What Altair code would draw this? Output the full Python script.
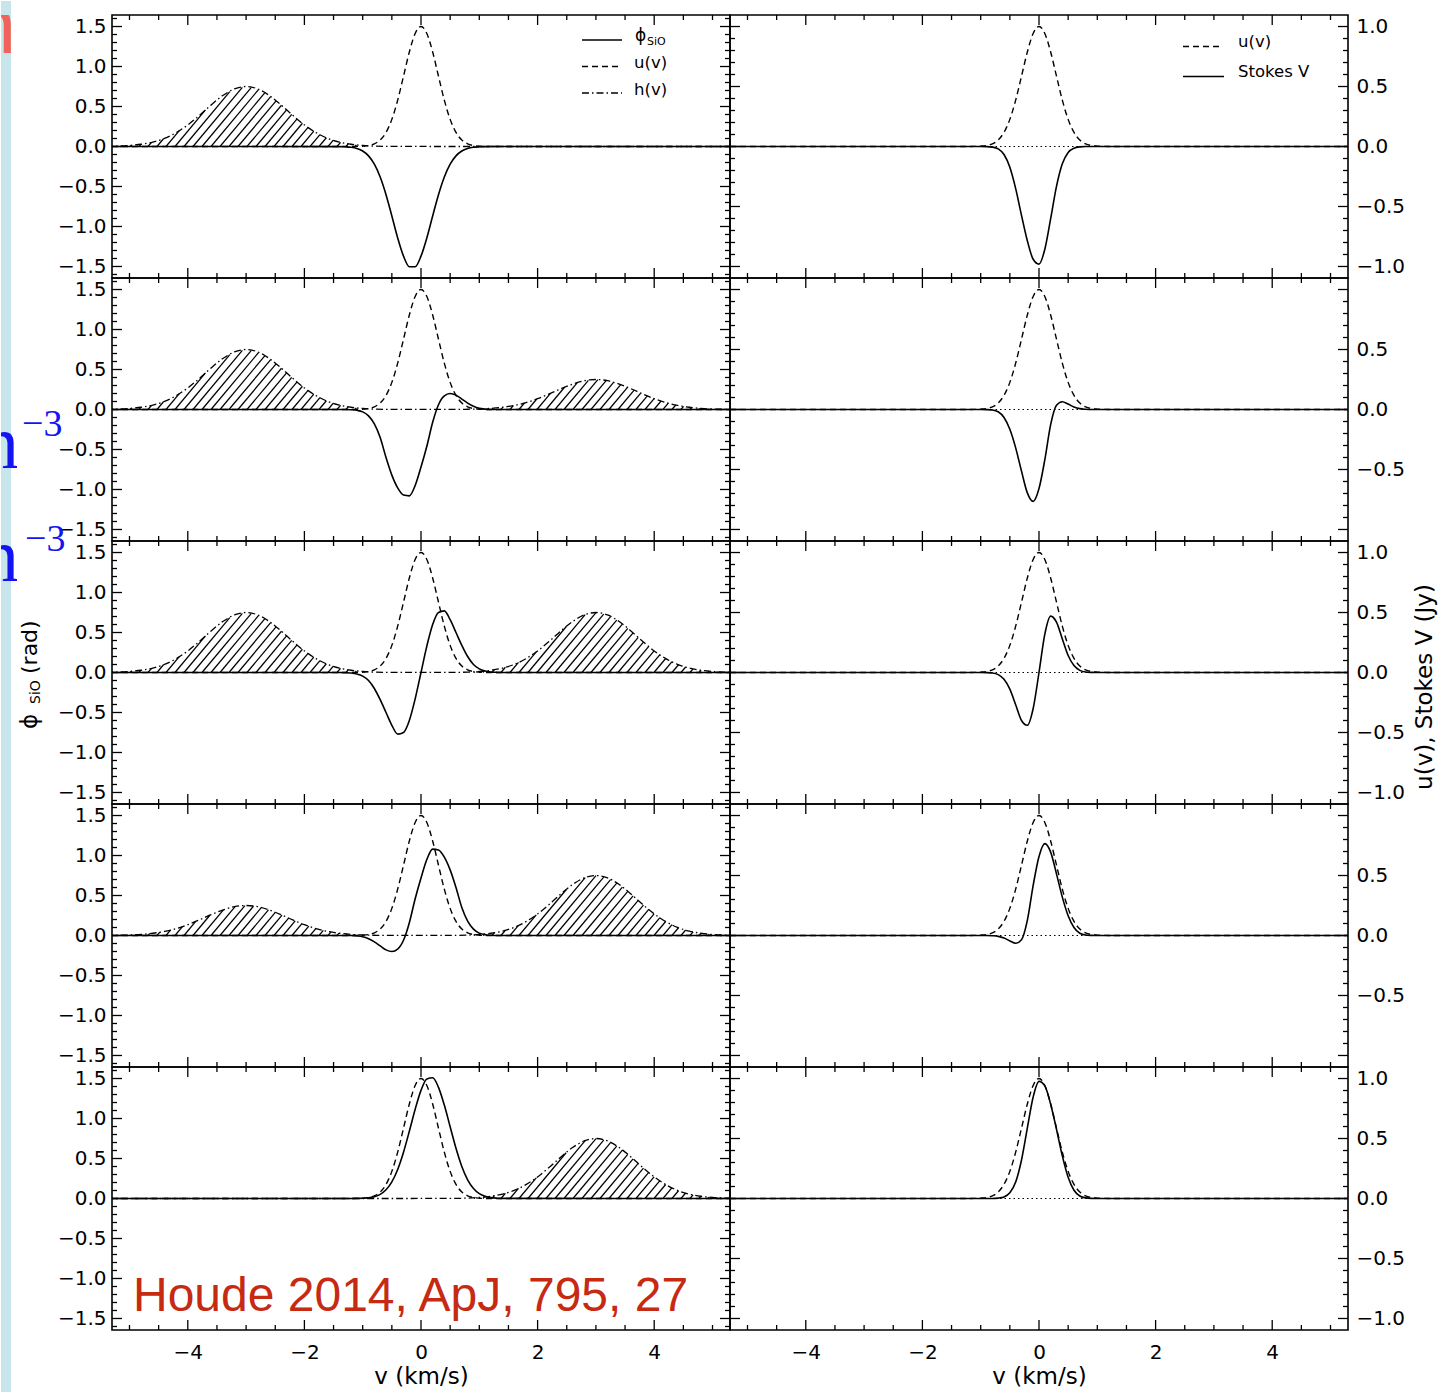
import altair as alt
import numpy as np
import pandas as pd

# ---------------- data ----------------
# velocity samples (km/s) used for the line-centre features
v_c = [-1.4, -1.3, -1.2, -1.1, -1.0, -0.9, -0.8, -0.7, -0.6, -0.5, -0.4, -0.3, -0.2, -0.1, 0.0,
       0.1, 0.2, 0.3, 0.4, 0.5, 0.6, 0.7, 0.8, 0.9, 1.0, 1.1, 1.2, 1.3, 1.4]

# u(v) on the left (rad) axis and on the right (Jy) axis
u_rad = [0, 0, 0, 0.001, 0.004, 0.012, 0.033, 0.081, 0.176, 0.339, 0.579, 0.878, 1.182, 1.413, 1.5,
         1.413, 1.182, 0.878, 0.579, 0.339, 0.176, 0.081, 0.033, 0.012, 0.004, 0.001, 0, 0, 0]
u_jy = [0, 0, 0, 0.001, 0.003, 0.008, 0.022, 0.054, 0.118, 0.226, 0.386, 0.586, 0.788, 0.942, 1.0,
        0.942, 0.788, 0.586, 0.386, 0.226, 0.118, 0.054, 0.022, 0.008, 0.003, 0.001, 0, 0, 0]

# phi_SiO (rad), one list per row
phi_1 = [-0.001, -0.004, -0.010, -0.025, -0.056, -0.117, -0.221, -0.382, -0.603, -0.869, -1.143, -1.371,
         -1.503, -1.503, -1.371, -1.143, -0.869, -0.603, -0.382, -0.221, -0.117, -0.056, -0.025, -0.010,
         -0.004, -0.001, 0, 0, 0]
phi_2 = [0, 0, -0.003, -0.01, -0.03, -0.08, -0.18, -0.35, -0.60, -0.82, -0.98, -1.07, -1.08, -0.95, -0.72,
         -0.46, -0.16, 0.06, 0.17, 0.20, 0.18, 0.13, 0.08, 0.04, 0.015, 0.005, 0, 0, 0]
phi_3 = [0, -0.002, -0.006, -0.018, -0.045, -0.10, -0.20, -0.34, -0.50, -0.66, -0.77, -0.75, -0.60, -0.33, 0.0,
         0.33, 0.60, 0.75, 0.77, 0.66, 0.50, 0.34, 0.20, 0.10, 0.045, 0.018, 0.006, 0.002, 0]
phi_4 = [0, 0, 0, -0.005, -0.015, -0.04, -0.08, -0.13, -0.18, -0.20, -0.17, -0.06, 0.16, 0.46, 0.72,
         0.95, 1.08, 1.07, 0.98, 0.82, 0.60, 0.35, 0.18, 0.08, 0.03, 0.01, 0.003, 0, 0]
phi_5 = [0, 0, 0, 0.001, 0.003, 0.009, 0.023, 0.052, 0.109, 0.208, 0.363, 0.579, 0.841, 1.116, 1.352,
         1.495, 1.509, 1.390, 1.168, 0.896, 0.628, 0.401, 0.234, 0.125, 0.061, 0.027, 0.011, 0.004, 0.001]
phi_rows = [phi_1, phi_2, phi_3, phi_4, phi_5]

# Stokes V (Jy), one list per row
stokes_1 = [0, 0, 0, 0, 0, -0.001, -0.005, -0.020, -0.067, -0.173, -0.351, -0.574, -0.786, -0.940, -0.980,
            -0.857, -0.602, -0.332, -0.144, -0.050, -0.014, -0.003, 0, 0, 0, 0, 0, 0, 0]
stokes_2 = [0, 0, 0, 0, 0, -0.001, -0.004, -0.019, -0.067, -0.165, -0.320, -0.514, -0.695, -0.766, -0.659,
            -0.418, -0.126, 0.035, 0.065, 0.045, 0.021, 0.007, 0.002, 0, 0, 0, 0, 0, 0]
stokes_3 = [0, 0, 0, 0, 0, -0.001, -0.004, -0.018, -0.057, -0.139, -0.269, -0.400, -0.440, -0.300, 0.0,
            0.320, 0.470, 0.420, 0.280, 0.142, 0.058, 0.018, 0.004, 0.001, 0, 0, 0, 0, 0]
stokes_4 = [0, 0, 0, 0, 0, 0, -0.002, -0.007, -0.021, -0.045, -0.065, -0.035, 0.126, 0.418, 0.659,
            0.766, 0.695, 0.514, 0.320, 0.165, 0.067, 0.019, 0.004, 0.001, 0, 0, 0, 0, 0]
stokes_5 = [0, 0, 0, 0, 0, 0, 0, 0.003, 0.013, 0.047, 0.137, 0.321, 0.587, 0.846, 0.976,
            0.939, 0.786, 0.577, 0.355, 0.177, 0.069, 0.021, 0.005, 0.001, 0, 0, 0, 0, 0]
stokes_rows = [stokes_1, stokes_2, stokes_3, stokes_4, stokes_5]

# h(v) clouds at -3 and +3 km/s : offsets from the cloud centre and the two profile heights
h_off = [-2.4, -2.2, -2.0, -1.8, -1.6, -1.4, -1.2, -1.0, -0.8, -0.6, -0.4, -0.2, 0.0,
         0.2, 0.4, 0.6, 0.8, 1.0, 1.2, 1.4, 1.6, 1.8, 2.0, 2.2, 2.4]
h_big = [0.002, 0.005, 0.013, 0.028, 0.055, 0.101, 0.173, 0.27, 0.39, 0.52, 0.637, 0.72, 0.75,
         0.72, 0.637, 0.52, 0.39, 0.27, 0.173, 0.101, 0.055, 0.028, 0.013, 0.005, 0.002]
h_small = [0.001, 0.003, 0.006, 0.014, 0.028, 0.051, 0.086, 0.135, 0.195, 0.26, 0.318, 0.36, 0.375,
           0.36, 0.318, 0.26, 0.195, 0.135, 0.086, 0.051, 0.028, 0.014, 0.006, 0.003, 0.001]
cloud_centres = [-3.0, 3.0]
cloud_left = ["big", "big", "big", "small", "none"]
cloud_right = ["none", "small", "big", "big", "big"]

# axes
x_major = [-4, -2, 0, 2, 4]
x_minor = [-5, -4.5, -3.5, -3, -2.5, -1.5, -1, -0.5, 0.5, 1, 1.5, 2.5, 3, 3.5, 4.5, 5]
phi_major = [-1.5, -1.0, -0.5, 0.0, 0.5, 1.0, 1.5]
phi_minor = [-1.6, -1.4, -1.3, -1.2, -1.1, -0.9, -0.8, -0.7, -0.6, -0.4, -0.3, -0.2, -0.1,
             0.1, 0.2, 0.3, 0.4, 0.6, 0.7, 0.8, 0.9, 1.1, 1.2, 1.3, 1.4, 1.6]
jy_major = [-1.0, -0.5, 0.0, 0.5, 1.0]
jy_minor = [-0.9, -0.8, -0.7, -0.6, -0.4, -0.3, -0.2, -0.1, 0.1, 0.2, 0.3, 0.4, 0.6, 0.7, 0.8, 0.9]
jy_labels = [[-1.0, -0.5, 0.0, 0.5, 1.0], [-0.5, 0.0, 0.5], [-1.0, -0.5, 0.0, 0.5, 1.0],
             [-0.5, 0.0, 0.5], [-1.0, -0.5, 0.0, 0.5, 1.0]]

# ---------------- layout / style ----------------
W, H = 618, 263
V_DOM = [-5.3, 5.3]
PHI_DOM = [-1.644, 1.644]
JY_DOM = [-1.096, 1.096]
FONT = "DejaVu Sans"
XS = alt.Scale(domain=V_DOM, nice=False, zero=False)
YS_PHI = alt.Scale(domain=PHI_DOM, nice=False, zero=False)
YS_JY = alt.Scale(domain=JY_DOM, nice=False, zero=False)
one = pd.DataFrame({"a": [0]})
DASH = [6, 4]
DASHDOT = [7, 3, 1.5, 3]


def series_df(vals):
    return pd.DataFrame({"v": [V_DOM[0]] + v_c + [V_DOM[1]], "val": [0.0] + list(vals) + [0.0]})


def h_profile(kind):
    if kind == "big":
        return h_big
    if kind == "small":
        return h_small
    return [0.0] * len(h_off)


def h_df(r):
    vs, ys = [], []
    for c, kind in zip(cloud_centres, [cloud_left[r], cloud_right[r]]):
        vs += [c + d for d in h_off]
        ys += list(h_profile(kind))
    return pd.DataFrame({"v": vs, "val": ys})


PX_V = W / (V_DOM[1] - V_DOM[0])
PX_PHI = H / (PHI_DOM[1] - PHI_DOM[0])


def hatch_df(r):
    rows = []
    for c, kind in zip(cloud_centres, [cloud_left[r], cloud_right[r]]):
        if kind == "none":
            continue
        vals = np.array(h_profile(kind))
        vs = np.array([c + d for d in h_off])
        fine = np.linspace(vs[0], vs[-1], 4000)
        hf = np.interp(fine, vs, vals)
        k = 1.2 * PX_V / PX_PHI
        step = 9.0 / PX_V
        v0 = max(vs[0], V_DOM[0])
        while v0 < min(vs[-1], V_DOM[1]):
            lin = (fine - v0) * k
            m = (fine > v0) & (lin >= hf)
            if m.any():
                i = int(np.argmax(m))
                if hf[i] > 0.006:
                    rows.append({"v0": v0, "v1": fine[i], "y0": 0.0, "y1": hf[i]})
            v0 += step
    return pd.DataFrame(rows)


def text(txt, x, y, size, color="black", font=FONT, angle=0, align="left", baseline="middle", clip=False):
    kw = dict(text=txt, fontSize=size, color=color, font=font, align=align, baseline=baseline)
    if angle:
        kw["angle"] = angle
    if clip:
        kw["clip"] = True
    return alt.Chart(one).mark_text(**kw).encode(x=alt.value(x), y=alt.value(y))


def hrule(x1, x2, y, dash=None, width=1.4):
    kw = dict(color="black", strokeWidth=width)
    if dash:
        kw["strokeDash"] = dash
    return alt.Chart(one).mark_rule(**kw).encode(x=alt.value(x1), x2=alt.value(x2), y=alt.value(y))


def pin(x, y1, y2):
    # invisible element fixing the extent of the drawing
    return alt.Chart(one).mark_rule(strokeOpacity=0, strokeWidth=0).encode(
        x=alt.value(x), y=alt.value(y1), y2=alt.value(y2))


def tick_layers(ys, y_major, y_minor, xaxis, yaxis):
    out = []
    for vals, ln in [(x_major, 10), (x_minor, 5)]:
        base = alt.Chart(pd.DataFrame({"t": vals})).mark_rule(color="black", strokeWidth=1.3)
        out.append(base.encode(x=alt.X("t:Q", scale=XS, axis=xaxis), y=alt.value(H), y2=alt.value(H - ln)))
        out.append(base.encode(x=alt.X("t:Q", scale=XS, axis=xaxis), y=alt.value(0), y2=alt.value(ln)))
    for vals, ln in [(y_major, 10), (y_minor, 5)]:
        base = alt.Chart(pd.DataFrame({"t": vals})).mark_rule(color="black", strokeWidth=1.3)
        out.append(base.encode(y=alt.Y("t:Q", scale=ys, axis=yaxis), x=alt.value(0), x2=alt.value(ln)))
        out.append(base.encode(y=alt.Y("t:Q", scale=ys, axis=yaxis), x=alt.value(W), x2=alt.value(W - ln)))
    return out


def frame():
    return alt.Chart(one).mark_rect(fill="transparent", stroke="black", strokeWidth=1.6).encode(
        x=alt.value(0), x2=alt.value(W), y=alt.value(0), y2=alt.value(H))


def x_axis(r):
    if r == 4:
        return alt.Axis(values=x_major, format="d", tickSize=0, domain=False, grid=False,
                        labelPadding=12, labelFlush=False, labelOverlap=False,
                        title="v (km/s)", titlePadding=3)
    return None


def line_mark(df, ys, xaxis, yaxis, dash=None, width=1.5):
    kw = dict(color="black", strokeWidth=width, clip=True, interpolate="monotone")
    if dash:
        kw["strokeDash"] = dash
    return alt.Chart(df).mark_line(**kw).encode(
        x=alt.X("v:Q", scale=XS, axis=xaxis),
        y=alt.Y("val:Q", scale=ys, axis=yaxis))


def left_panel(r):
    xaxis = x_axis(r)
    yaxis = alt.Axis(values=phi_major, format=".1f", tickSize=0, domain=False, grid=False,
                     labelPadding=6, labelFlush=False, labelOverlap=False, title=None)
    layers = []
    hd = hatch_df(r)
    if len(hd):
        layers.append(alt.Chart(hd).mark_rule(color="black", strokeWidth=1.25).encode(
            x=alt.X("v0:Q", scale=XS, axis=xaxis), x2="v1:Q",
            y=alt.Y("y0:Q", scale=YS_PHI, axis=yaxis), y2="y1:Q"))
    layers.append(line_mark(h_df(r), YS_PHI, xaxis, yaxis, dash=DASHDOT, width=1.3))
    layers.append(line_mark(series_df(u_rad), YS_PHI, xaxis, yaxis, dash=DASH, width=1.4))
    layers.append(line_mark(series_df(phi_rows[r]), YS_PHI, xaxis, yaxis, width=1.6))
    layers += tick_layers(YS_PHI, phi_major, phi_minor, xaxis, yaxis)
    layers.append(frame())
    if r == 0:
        layers += [hrule(470, 510, 25), text("\u03d5", 523, 21, 17), text("SiO", 535, 27, 11),
                   hrule(470, 510, 51.5, DASH), text("u(v)", 522, 48, 16.5),
                   hrule(470, 510, 78, DASHDOT), text("h(v)", 522, 75, 16.5),
                   pin(-95, 0, 10)]
    if r == 1:
        layers += [text("\u22123", -90, 158, 38, color="#1414f0", font="Liberation Serif",
                        baseline="alphabetic"),
                   text("\u22123", -87, 273, 38, color="#1414f0", font="Liberation Serif",
                        baseline="alphabetic")]
    if r == 2:
        layers += [text("\u03d5", -82, 188, 23, angle=270),
                   text("SiO", -76, 163, 14, angle=270),
                   text("(rad)", -82, 133, 22, angle=270)]
    if r == 4:
        layers.append(text("Houde 2014, ApJ, 795, 27", 21, 244, 48, color="#c62a12",
                           font="Liberation Sans", baseline="alphabetic"))
    return alt.layer(*layers).properties(width=W, height=H)


def right_panel(r):
    xaxis = x_axis(r)
    yaxis = alt.Axis(values=jy_labels[r], format=".1f", orient="right", tickSize=0, domain=False,
                     grid=False, labelPadding=8, labelFlush=False, labelOverlap=False, title=None)
    zero_df = pd.DataFrame({"v": V_DOM, "val": [0.0, 0.0]})
    layers = [line_mark(zero_df, YS_JY, xaxis, yaxis, dash=[1.5, 3], width=1.2),
              line_mark(series_df(u_jy), YS_JY, xaxis, yaxis, dash=DASH, width=1.4),
              line_mark(series_df(stokes_rows[r]), YS_JY, xaxis, yaxis, width=1.6)]
    layers += tick_layers(YS_JY, jy_major, jy_minor, xaxis, yaxis)
    layers.append(frame())
    if r == 0:
        layers += [hrule(453, 491, 31.5, DASH), text("u(v)", 508, 27, 16.5),
                   hrule(453, 494, 61.5), text("Stokes V", 508, 57, 16.5)]
    if r == 2:
        layers.append(text("u(v), Stokes V (Jy)", 695, 146, 23, angle=270, align="center"))
    return alt.layer(*layers).properties(width=W, height=H)


panels = []
for r in range(5):
    panels += [left_panel(r), right_panel(r)]

grid = alt.concat(*panels, columns=2, spacing=0, bounds="flush")

# slide decoration at the left edge
deco = alt.layer(
    alt.Chart(one).mark_rect(color="#c6e6ec").encode(
        x=alt.value(0), x2=alt.value(10), y=alt.value(-14), y2=alt.value(1378)),
    text("n", 15, 38, 80, color="#f0625a", font="Liberation Sans", align="right",
         baseline="alphabetic", clip=True),
    text("n", 18, 453, 76, color="#1414f0", font="Liberation Serif", align="right",
         baseline="alphabetic", clip=True),
    text("n", 18, 566, 76, color="#1414f0", font="Liberation Serif", align="right",
         baseline="alphabetic", clip=True),
    pin(15, 0, 5),
).properties(width=16, height=1378)

chart = alt.hconcat(deco, grid, spacing=-2).properties(
    padding=0, background="white"
).configure_view(stroke="transparent").configure_axis(
    labelFont=FONT, labelFontSize=20, labelColor="black",
    titleFont=FONT, titleFontSize=23, titleFontWeight="normal", titleColor="black"
)

chart.save("out.html", embed_options={"renderer": "svg", "actions": False})
